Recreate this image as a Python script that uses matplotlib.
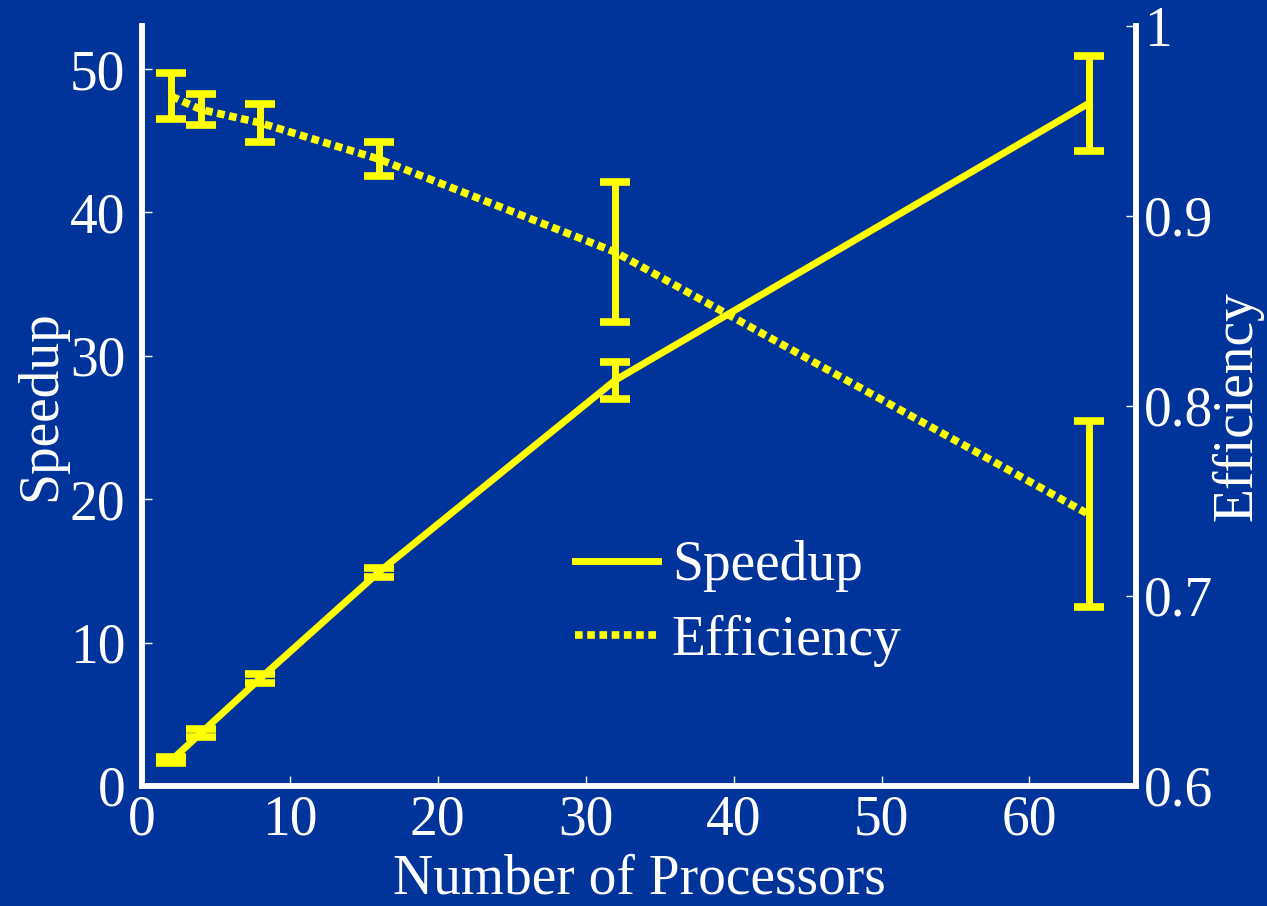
import matplotlib.pyplot as plt

# data
procs = [2, 4, 8, 16, 32, 64]
speedup = [1.8, 3.7, 7.5, 14.9, 28.3, 47.6]
speedup_err = [0.2, 0.3, 0.3, 0.3, 1.3, 3.3]
efficiency = [0.963, 0.956, 0.949, 0.930, 0.881, 0.743]
efficiency_err = [0.012, 0.008, 0.010, 0.009, 0.037, 0.049]

xticks = [0, 10, 20, 30, 40, 50, 60]
sp_ticks = [0, 10, 20, 30, 40, 50]
eff_ticks = [0.6, 0.7, 0.8, 0.9, 1.0]
eff_labels = ['0.6', '0.7', '0.8', '0.9', '1']

bg = '#00349a'
fg = 'white'
yel = '#ffff00'

plt.rcParams['font.family'] = 'Liberation Serif'
plt.rcParams['font.size'] = 40

fig = plt.figure(figsize=(12.67, 9.06), dpi=100, facecolor=bg)
ax = fig.add_axes([0.112, 0.1325, 0.7846, 0.8388])
ax.set_facecolor(bg)
ax2 = ax.twinx()

l1 = ax.errorbar(procs, speedup, yerr=speedup_err, color=yel, lw=5,
                 elinewidth=5, capsize=10.5, capthick=5.5, label='Speedup')
l2 = ax2.errorbar(procs, efficiency, yerr=efficiency_err, color=yel, lw=5.5,
                  ls=(0, (1.0, 0.6)), elinewidth=5, capsize=10.5, capthick=5.5,
                  label='Efficiency')
l2[0].set_dash_capstyle('butt')

ax.set_xlim(0, 67.2)
ax.set_ylim(0, 53)
ax2.set_ylim(0.6, 1.0)
ax.set_xticks(xticks)
ax.set_yticks(sp_ticks)
ax2.set_yticks(eff_ticks)
ax2.set_yticklabels(eff_labels)

for a in (ax, ax2):
    a.spines['top'].set_visible(False)
    for s in ('left', 'right', 'bottom'):
        a.spines[s].set_color(fg)
        a.spines[s].set_linewidth(4)
    a.tick_params(colors=fg, direction='in', length=7, width=1, pad=6)
ax.tick_params(axis='y', pad=12)

ax.set_xlabel('Number of Processors', color=fg, labelpad=5)
ax.set_ylabel('Speedup', color=fg, labelpad=2)
ax2.set_ylabel('Efficiency', color=fg, labelpad=-2)

leg = ax.legend([l1[0], l2[0]], ['Speedup', 'Efficiency'], loc='center left',
                bbox_to_anchor=(0.385, 0.24), frameon=False, handlelength=1.5,
                handletextpad=0.25, labelspacing=0.4)
for t in leg.get_texts():
    t.set_color(fg)

fig.savefig('out.png', dpi=100, facecolor=bg)
